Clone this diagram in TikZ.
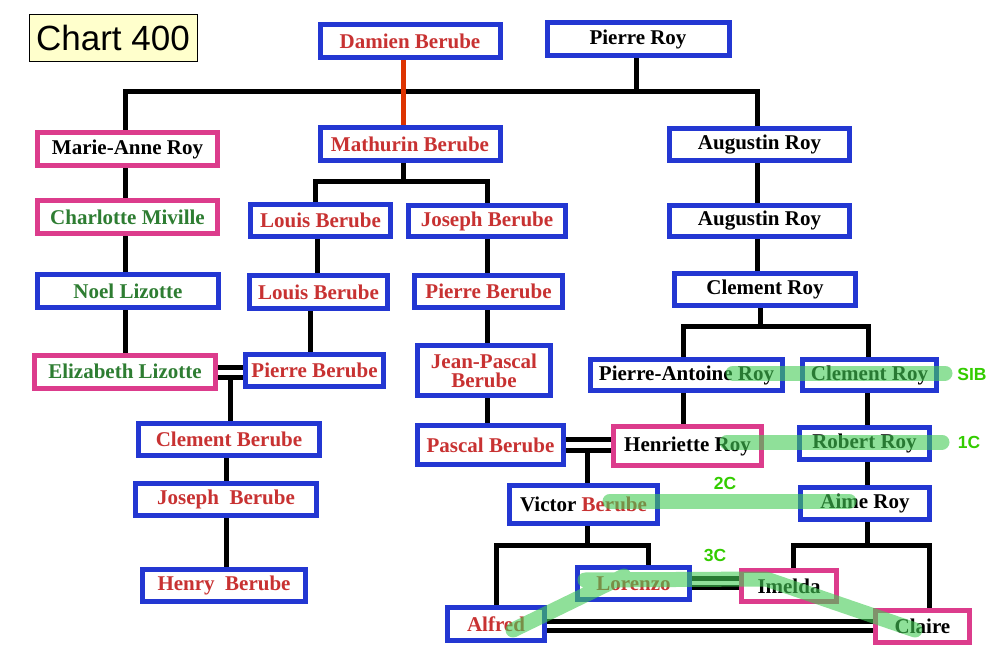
\documentclass[tikz,border=0pt]{standalone}
\usepackage{fontspec}
\setmainfont{Liberation Serif}
\newfontfamily\labelfont{Liberation Sans}
\definecolor{bblue}{HTML}{2337D2}
\definecolor{bpink}{HTML}{DC3C8C}
\definecolor{tred}{HTML}{C83232}
\definecolor{tgreen}{HTML}{2E7D32}
\definecolor{lred}{HTML}{DD3300}
\definecolor{hl}{HTML}{44CC55}
\definecolor{lgreen}{HTML}{33CC00}
\definecolor{chartbg}{HTML}{FFFFCC}
\pgfdeclarelayer{bg}
\pgfsetlayers{bg,main}
\begin{document}
\begin{tikzpicture}[x=1pt,y=-1pt,
  person/.style={draw=bblue, line width=5pt, fill=white, inner sep=0pt,
    font=\fontsize{21}{19}\selectfont\bfseries, align=center},
  fem/.style={person, draw=bpink},
  wh/.style 2 args={minimum width=#1pt, minimum height=#2pt},
  conn/.style={line width=5pt, draw=black},
  redconn/.style={line width=5pt, draw=lred},
  hlband/.style={line width=15pt, draw=hl, opacity=0.6, line cap=round, line join=round},
  glabel/.style={text=lgreen, font=\labelfont\bfseries\fontsize{17.5}{18}\selectfont, inner sep=0pt}]
\useasboundingbox (0,0) rectangle (996,660);

% title
\node[draw=black, line width=1pt, fill=chartbg, wh={168}{47}, inner sep=0pt,
  font=\labelfont\fontsize{35}{35}\selectfont] (chart) at (113,38) {Chart 400};

% people
\node[person, wh={180}{33}, text=tred] (damien) at (410,41) {Damien Berube};
\node[person, wh={182}{33}, text=black] (pierre) at (638,39) {Pierre Roy};
\node[fem, wh={180}{33}, text=black] (marie) at (127.5,149) {Marie-Anne Roy};
\node[person, wh={180}{33}, text=tred] (mathurin) at (410,144) {Mathurin Berube};
\node[person, wh={180}{32}, text=black] (aug1) at (759.5,144.5) {Augustin Roy};
\node[fem, wh={180}{33}, text=tgreen] (charlotte) at (127.5,217) {Charlotte Miville};
\node[person, wh={140}{32}, text=tred] (louis1) at (320.5,220.5) {Louis Berube};
\node[person, wh={157}{31}, text=tred] (joseph1) at (487,221) {Joseph Berube};
\node[person, wh={180}{31}, text=black] (aug2) at (759.5,221) {Augustin Roy};
\node[person, wh={181}{33}, text=tgreen] (noel) at (128,291) {Noel Lizotte};
\node[person, wh={138}{33}, text=tred] (louis2) at (318.5,292) {Louis Berube};
\node[person, wh={148}{32}, text=tred] (pierreB2) at (488.5,291.5) {Pierre Berube};
\node[person, wh={181}{32}, text=black] (clementR) at (765,289.5) {Clement Roy};
\node[fem, wh={181}{33}, text=tgreen] (elizabeth) at (125,371.5) {Elizabeth Lizotte};
\node[person, wh={138}{32}, text=tred] (pierreB) at (314.5,370.5) {Pierre Berube};
\node[person, wh={133}{50}, text=tred] (jeanpascal) at (484,370.5) {Jean-Pascal\\Berube};
\node[person, wh={192}{31}, text=black] (pantoine) at (686.5,375) {Pierre-Antoine Roy};
\node[person, wh={134}{31}, text=black] (clementR2) at (869.5,375) {Clement Roy};
\node[person, wh={181}{32}, text=tred] (clementB) at (229,439.5) {Clement Berube};
\node[person, wh={146}{39}, text=tred] (pascal) at (490.5,445) {Pascal Berube};
\node[fem, wh={148}{39}, text=black] (henriette) at (687.5,446) {Henriette Roy};
\node[person, wh={130}{32}, text=black] (robert) at (864.5,443.5) {Robert Roy};
\node[person, wh={181}{32}, text=tred] (joseph2) at (226,499.5) {Joseph~ Berube};
\node[person, wh={148}{38}, text=black] (victor) at (583.5,504.5) {Victor \textcolor{tred}{Berube}};
\node[person, wh={129}{32}, text=black] (aime) at (865,503.5) {Aime Roy};
\node[person, wh={163}{32}, text=tred] (henry) at (224,585.5) {Henry~ Berube};
\node[person, wh={112}{32}, text=tred] (lorenzo) at (633.5,583.5) {Lorenzo};
\node[fem, wh={95}{31}, text=black] (imelda) at (789,586) {Imelda};
\node[person, wh={97}{33}, text=tred] (alfred) at (496,624) {Alfred};
\node[fem, wh={94}{32}, text=black] (claire) at (922.5,626.5) {Claire};

% connectors
\begin{pgfonlayer}{bg}
\coordinate (topbar) at (400,92);
\coordinate (mbar) at (403,182);
\coordinate (cbar) at (760,327);
\coordinate (ep) at (230,377);
\coordinate (ph) at (587,450);
\coordinate (vbar) at (587,545);
\coordinate (abar) at (867,545);

\draw[conn] ([xshift=-2.5pt]marie.north) |- (topbar) -| ([xshift=-2.5pt]aug1.north);
\draw[conn] ([xshift=-2pt]pierre.south) -- ([xshift=-2pt]pierre.south |- topbar);
\draw[conn] ([xshift=-2.5pt]marie.south) -- ([xshift=-2.5pt]marie.south |- elizabeth.north);
\draw[conn] ([xshift=-7pt]mathurin.south) -- (mbar);
\draw[conn] ([xshift=-5.5pt]louis1.north) |- (mbar) -| (joseph1.north);
\draw[conn] ([xshift=-3.5pt]louis1.south) -- ([xshift=-3.5pt]louis1.south |- louis2.north);
\draw[conn] ([xshift=-4.5pt]pierreB.north) -- ([xshift=-4.5pt]pierreB.north |- louis2.south);
\draw[conn] (joseph1.south) -- (joseph1.south |- pascal.north);
\draw[conn] ([xshift=-2.5pt]aug1.south) -- ([xshift=-2.5pt]aug1.south |- clementR.north);
\draw[conn] ([yshift=4.5pt]elizabeth.east) -- ([yshift=4.5pt]elizabeth.east -| pierreB.west);
\draw[conn] ([yshift=-5.5pt]elizabeth.east) -- ([yshift=-5.5pt]elizabeth.east -| pierreB.west);
\draw[conn] (ep) -- (ep |- clementB.north);
\draw[conn] (clementB.south -| joseph2.north) -- (joseph2.north);
\draw[conn] (joseph2.south) -- (joseph2.south |- henry.north);
\draw[conn] ([xshift=-5pt]clementR.south) -- (cbar);
\draw[conn] ([xshift=-3.5pt]pantoine.north) |- (cbar) -| ([xshift=-1.5pt]clementR2.north);
\draw[conn] ([xshift=-3.5pt]pantoine.south) -- ([xshift=-3.5pt]pantoine.south |- henriette.north);
\draw[conn] ([xshift=2pt]aime.north |- clementR2.south) -- ([xshift=2pt]aime.north);
\draw[conn] ([yshift=6pt]pascal.east) -- ([yshift=6pt]pascal.east -| henriette.west);
\draw[conn] ([yshift=-5pt]pascal.east) -- ([yshift=-5pt]pascal.east -| henriette.west);
\draw[conn] (ph) -- (ph |- victor.north);
\draw[conn] ([xshift=3.5pt]victor.south) -- (vbar);
\draw[conn] (alfred.north) |- (vbar) -| ([xshift=14.5pt]lorenzo.north);
\draw[conn] ([xshift=2pt]aime.south) -- (abar);
\draw[conn] ([xshift=4pt]imelda.north) |- (abar) -| ([xshift=6.5pt]claire.north);
\draw[conn] ([yshift=5.5pt]lorenzo.east) -- ([yshift=5.5pt]lorenzo.east -| imelda.west);
\draw[conn] ([yshift=-3.5pt]lorenzo.east) -- ([yshift=-3.5pt]lorenzo.east -| imelda.west);
\draw[conn] ([yshift=3pt]alfred.east) -- ([yshift=3pt]alfred.east -| claire.west);
\draw[conn] ([yshift=-6pt]alfred.east) -- ([yshift=-6pt]alfred.east -| claire.west);
\draw[redconn] ([xshift=-6.5pt]damien.south) -- ([xshift=-6.5pt]mathurin.north);
\end{pgfonlayer}

% relationship highlights
\coordinate (s1) at (733,373); \coordinate (s2) at (945,373);
\coordinate (c1a) at (727,442); \coordinate (c1b) at (942,442);
\coordinate (c2a) at (610,501); \coordinate (c2b) at (849,501);
\coordinate (c3a) at (513,630); \coordinate (c3b) at (624,576);
\coordinate (c3c) at (585,580); \coordinate (c3d) at (766,579);
\coordinate (c3e) at (915,630);
\draw[hlband] (s1) -- (s2);
\draw[hlband] (c1a) -- (c1b);
\draw[hlband] (c2a) -- (c2b);
\draw[hlband] (c3a) -- (c3b) (c3c) -- (c3d) -- (c3e);
\node[glabel] (sib) at (972,374) {SIB};
\node[glabel] (l1c) at (969,442) {1C};
\node[glabel] (l2c) at (725,483) {2C};
\node[glabel] (l3c) at (715,555) {3C};
\end{tikzpicture}
\end{document}
